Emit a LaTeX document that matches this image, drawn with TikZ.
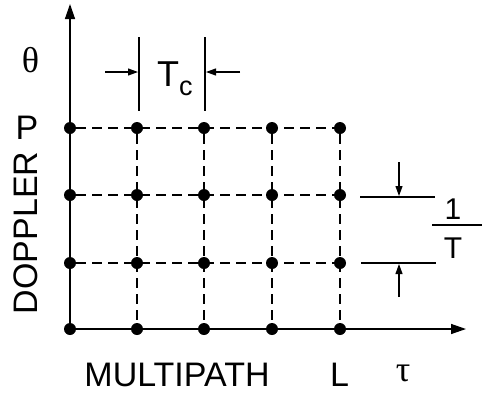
\documentclass[tikz,border=0pt]{standalone}
\usepackage{fontspec}
\setmainfont{Liberation Sans}
\newfontfamily\greekfont{Liberation Serif}
\usetikzlibrary{arrows.meta}
\begin{document}
\begin{tikzpicture}[x=1pt,y=-1pt,
  dot/.style={circle,fill=black,inner sep=0pt,minimum size=12pt},
  gridline/.style={dash pattern=on 10pt off 6pt,line width=1.1pt,black},
  axis/.style={line width=1.4pt,-{Triangle[length=15pt,width=10pt]}},
  dimline/.style={line width=1.1pt},
  dimarrow/.style={line width=1.1pt,-{Triangle[length=10pt,width=7pt]}},
  lbl/.style={font=\fontsize{34}{38}\selectfont,inner sep=0pt},
  greek/.style={font=\greekfont\fontsize{36}{40}\selectfont,inner sep=0pt},
  frac/.style={font=\fontsize{30}{34}\selectfont,inner sep=0pt}
]
\useasboundingbox (0,0) rectangle (485,392);

% dots
\foreach \x [count=\i from 0] in {70,137,204,272,340}{
  \foreach \y [count=\j from 0] in {329,263,195,128}{
    \node[dot] (d\i\j) at (\x,\y) {};
  }
}

% dashed grid
\foreach \j in {1,2,3}{
  \draw[gridline] (d0\j) -- (d4\j);
}
\foreach \i in {1,2,3,4}{
  \draw[gridline] (d\i3) -- (d\i0);
}

% axes
\coordinate (ytip) at (70,4);
\coordinate (xtip) at (466,329);
\draw[axis] (d00.center) -- (ytip);
\draw[axis] (d00.center) -- (xtip);

% Tc dimension
\coordinate (tcl1) at (139,37);
\coordinate (tcl2) at (139,111);
\coordinate (tcr1) at (205,37);
\coordinate (tcr2) at (205,111);
\draw[dimline] (tcl1) -- (tcl2);
\draw[dimline] (tcr1) -- (tcr2);
\coordinate (tca1) at (105,72);
\coordinate (tca2) at (138,72);
\coordinate (tcb1) at (240,72);
\coordinate (tcb2) at (206,72);
\draw[dimarrow] (tca1) -- (tca2);
\draw[dimarrow] (tcb1) -- (tcb2);
\node[lbl,anchor=base west] (tc) at (157,86) {{\fontsize{36}{40}\selectfont T}\raisebox{-9pt}{\fontsize{27}{30}\selectfont c}};

% 1/T dimension
\coordinate (ta1) at (360,197);
\coordinate (ta2) at (435,197);
\coordinate (tb1) at (361,263);
\coordinate (tb2) at (436,263);
\draw[dimline] (ta1) -- (ta2);
\draw[dimline] (tb1) -- (tb2);
\coordinate (aa1) at (399,162);
\coordinate (aa2) at (399,196);
\coordinate (ab1) at (399,297);
\coordinate (ab2) at (399,264);
\draw[dimarrow] (aa1) -- (aa2);
\draw[dimarrow] (ab1) -- (ab2);
\coordinate (fb1) at (432,225);
\coordinate (fb2) at (482,225);
\draw[dimline] (fb1) -- (fb2);
\node[frac] (one) at (453,209) {1};
\node[frac] (tee) at (453,248) {T};

% labels
\node[greek] (theta) at (30.5,60) {θ};
\node[lbl] (p) at (27,128) {P};
\node[lbl,rotate=90] (doppler) at (26,233) {DOPPLER};
\node[lbl,anchor=base] (multipath) at (177,386) {MULTIPATH};
\node[lbl,anchor=base] (l) at (339.5,386) {L};
\node[greek] (tau) at (403,373) {τ};
\end{tikzpicture}
\end{document}
